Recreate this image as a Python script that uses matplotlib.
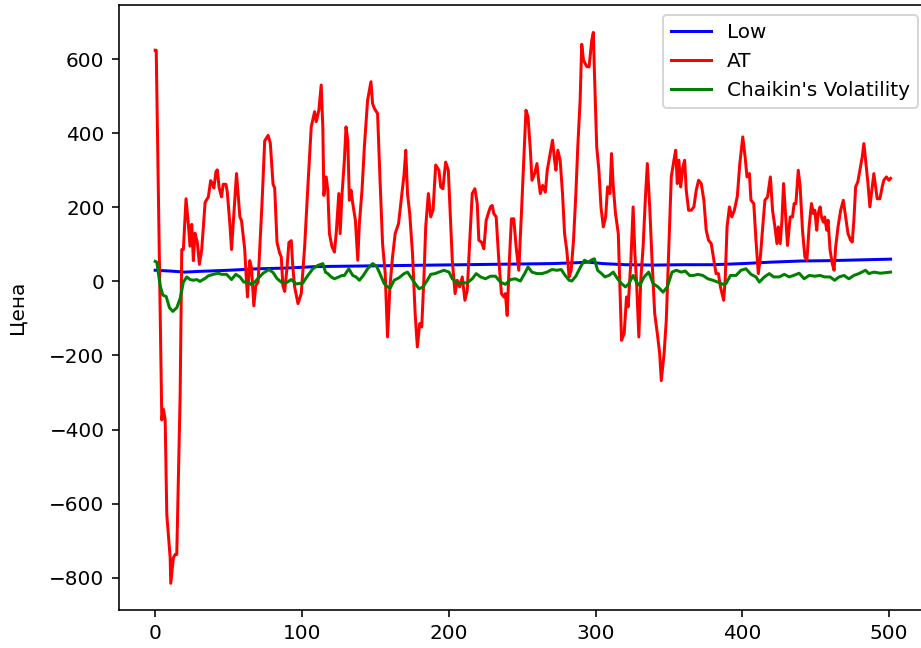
import matplotlib
matplotlib.use("Agg")
import matplotlib.pyplot as plt

# ---- data ----
low_x = [0, 10, 20, 30, 50, 70, 90, 110, 130, 150, 170, 190, 210, 230, 250, 270,
         285, 295, 305, 320, 340, 360, 380, 400, 420, 440, 460, 480, 501]
low_y = [30, 28, 25, 27, 30, 34, 36, 40, 41, 42, 43, 44, 45, 46, 47, 48,
         50, 52, 48, 45, 44, 45, 45, 48, 52, 55, 56, 58, 60]

at_x = [0, 0.7, 4.5, 5.6, 6.8, 7.9, 10.2, 10.6, 12.4, 13.6, 14.7, 17, 18.1, 19.2, 21, 22.6,
        23.7, 24.9, 26, 27.1, 28.7, 30.1, 31.7, 34, 36.2, 37.8, 39.1, 40, 41.4, 42.3, 43.6,
        45.2, 46.3, 48.2, 49.1, 50.9, 52, 55.4, 57.7, 58.8, 61, 62.2, 62.9, 64.4, 65.6, 67.2,
        68.5, 70.1, 71.7, 72.8, 74.6, 76.9, 78.4, 80.3, 81.4, 83, 84.8, 85.9, 87, 88.2, 89.8,
        91.1, 92.7, 93.8, 95, 97.3, 99.5, 101.8, 104, 106.3, 108.6, 109.7, 111.5, 113.1, 114.2,
        114.9, 116.5, 117.6, 118.7, 120.5, 122.1, 123.3, 125.1, 126, 127.3, 128.9, 130, 131.2,
        132.3, 133.4, 134.6, 136.4, 138, 139.1, 140.9, 142.5, 144.7, 147, 148.1, 149.3, 151.5,
        153.1, 154.9, 156.7, 158.3, 159.9, 161.7, 163.5, 165.8, 167.3, 169.6, 170.7, 171.9,
        173.4, 175.3, 177.1, 178.6, 180.2, 181.6, 183.2, 184.3, 186.1, 187.7, 189.3, 191.1,
        193.3, 194.5, 196, 197.9, 199.7, 200.6, 202.4, 204.3, 205.8, 207.4, 209.2, 211, 212.6,
        214.2, 216, 217.8, 219.4, 220.5, 222.3, 223.9, 225.5, 226.9, 228.4, 229.6, 230.7, 232.3,
        234.1, 235.9, 237.5, 238.6, 239.8, 241.3, 242.7, 244.3, 245.9, 247.7, 249.5, 251.1,
        252.6, 254, 255.6, 256.7, 258.5, 260.1, 261.2, 262.4, 264, 265.8, 267.1, 269.1, 270.7,
        272.1, 273, 274.3, 275.9, 277.5, 278.9, 280.4, 282, 283.4, 285, 286.6, 287.9, 289.5,
        290.6, 291.8, 294, 295.6, 297.4, 298.5, 299.2, 300.8, 302.3, 303.7, 305.3, 306.9,
        308.2, 309.8, 310.9, 312.1, 313.6, 315.5, 316.6, 317.7, 319.5, 321.1, 322.2, 324.1,
        325.6, 326.8, 327.9, 329.5, 330.8, 332.4, 334, 335.3, 336.9, 338.5, 340.3, 342.1,
        343.7, 344.8, 346.7, 348.2, 349.8, 351.6, 353.4, 354.6, 355.7, 356.8, 358, 359.5,
        360.7, 361.8, 363.4, 365.2, 367, 368.6, 370.2, 372, 373.8, 375.4, 377, 378.8, 380.6,
        382.1, 383.7, 385.1, 386.7, 387.3, 388.3, 389.6, 391.2, 392.8, 394.6, 396.6, 398.3,
        400.3, 401.9, 403.2, 404.8, 405.9, 407.8, 409.3, 410.9, 412.3, 413.9, 415.4, 417.2,
        419.1, 420.6, 422.2, 423.6, 424.5, 425.8, 427, 428.1, 429.7, 430.8, 432.6, 434.2,
        435.3, 436.5, 438.1, 439.4, 441, 442.6, 444, 445.5, 447.1, 448.5, 449.4, 450.7, 451.6,
        453, 453.9, 455.2, 456.1, 457.5, 458.4, 459.8, 461.3, 462.5, 463.6, 465.2, 467, 468.8,
        470.4, 472, 473.8, 474.9, 476, 477.2, 478.7, 480.1, 481.7, 482.8, 484, 485.6, 486.9,
        488.5, 489.6, 490.8, 491.9, 493.7, 495.3, 496.4, 498.2, 499.8, 501]
at_y = [624, 624, -374, -345, -374, -629, -746, -815, -746, -737, -737, -306, 86, 86, 223, 154,
        95, 154, 56, 130, 105, 46, 86, 213, 228, 272, 262, 252, 296, 301, 252,
        228, 262, 262, 242, 154, 86, 291, 174, 164, 86, -2, -42, 56, 37, -66,
        -12, -2, 125, 213, 379, 394, 374, 262, 252, 105, 76, 66, -12, -27, 37,
        105, 110, 37, -15, -60, -33, 93, 255, 417, 458, 431, 462, 530, 417,
        232, 282, 246, 129, 93, 79, 129, 237, 129, 237, 327, 417, 381,
        219, 246, 210, 165, 57, 156, 246, 363, 489, 539, 480, 467, 453,
        282, 102, 21, -150, -15, 66, 129, 156, 210, 291, 354, 237,
        183, 75, -87, -177, -114, -123, 21, 147, 237, 174, 192, 314,
        300, 255, 250, 322, 300, 219, 57, -33, 3, -15, 12, -51, -24,
        102, 237, 250, 210, 111, 106, 88, 165, 183, 201, 205, 183, 174,
        57, -33, -42, -33, -92, 57, 169, 169, 93, 30, 183, 327,
        462, 444, 354, 273, 291, 318, 273, 237, 259, 241, 300, 345, 381,
        327, 300, 354, 327, 237, 129, 84, 12, 30, 111, 237, 363, 489,
        640, 597, 580, 579, 650, 672, 570, 363, 300, 201, 147, 174,
        255, 237, 345, 255, 183, 129, -15, -159, -141, -42, -69, 57,
        201, 75, 3, -150, 3, 93, 228, 318, 201, 57, -87, -141,
        -195, -268, -195, -105, 75, 282, 327, 354, 264, 327, 255, 309,
        327, 246, 192, 192, 201, 246, 273, 264, 219, 138, 111, 102, 57,
        21, 21, -15, -42, -51, 3, 147, 201, 174, 192, 230, 318,
        390, 336, 282, 291, 219, 210, 111, 21, 66, 147, 219, 228,
        282, 192, 147, 102, 147, 102, 165, 264, 165, 97, 174, 174,
        210, 210, 300, 255, 138, 66, 57, 147, 210, 183, 192, 138, 183,
        201, 174, 160, 174, 138, 165, 84, 48, 30, 93, 147, 192, 219,
        174, 129, 111, 106, 165, 255, 269, 300, 336, 372, 327, 264, 201,
        255, 291, 255, 223, 223, 255, 273, 282, 273, 278]

cv_x = [0, 1.1, 3.4, 5.2, 7.5, 9.7, 12, 14.7, 17, 19.2, 21.5, 23.7, 26, 28.3, 30.5, 34, 36.2,
        39.6, 43, 45.2, 48.6, 52, 54.9, 57.7, 60.4, 63.3, 65.6, 67.8, 70.1, 73.5, 77.5, 80.3,
        82.9, 85.9, 89.3, 92.7, 96.1, 100.6, 104, 107.4, 110.8, 114.2, 116, 117.6, 119.9,
        122.1, 125.1, 127.3, 128.9, 131.9, 134.6, 136.8, 139.1, 141.8, 144.7, 148.1, 150.8,
        153.1, 156, 158.3, 160.1, 162.8, 166.2, 169.6, 171.9, 174.1, 177.1, 179.8, 182.5,
        185.4, 187.7, 190.6, 193.3, 196.7, 200.2, 202.4, 205.8, 209.2, 212.6, 216, 218.7,
        221.7, 225, 228.4, 231.8, 235.2, 238.6, 242, 245.4, 248.8, 251.7, 254, 256.7, 260.1,
        263.5, 266.9, 270.3, 273.7, 276.6, 279.3, 282, 283.8, 286.6, 289.5, 292.4, 295.1,
        297.9, 299.2, 301.4, 304.1, 306.4, 309.1, 312.1, 315, 317.7, 320.4, 322.7, 325.6,
        327.9, 330.1, 333.1, 336.2, 339.2, 342.6, 346, 348.9, 352.1, 355, 358.4, 361.1, 364.1,
        367, 369.7, 373.1, 376.5, 379.9, 383.3, 386.7, 388.9, 391.9, 395.7, 399.1, 402.5,
        405.9, 409.3, 411.6, 415, 418.4, 421.3, 425.2, 428.6, 431.9, 434.9, 438.7, 442.1,
        445.5, 449.4, 453, 456.1, 459.8, 462.9, 465.9, 469.3, 472.6, 476, 479.4, 483.9,
        486.2, 489.6, 494.1, 501]
cv_y = [54, 52, -12, -37, -41, -71, -81, -71, -46, -2, 12, 5, 3, 5, 0, 8, 15,
        19, 22, 19, 19, 5, 19, 12, -2, -2, -9, -2, 8, 22, 32, 24,
        8, -2, -4, 5, -7, -4, 16, 34, 43, 48, 25, 21, 12,
        7, 12, 16, 16, 34, 16, 12, 3, 16, 34, 48, 41,
        21, -6, -15, -18, 3, 10, 21, 25, 12, -6, -20, -15,
        3, 19, 21, 25, 30, 25, 7, -4, -4, -4, 7, 21,
        12, 7, 14, 14, -2, -8, 5, 7, 1, 21, 39, 25, 21,
        21, 25, 32, 30, 32, 16, 3, 1, 14, 37, 57, 52,
        59, 61, 30, 21, 12, 16, 25, 7, -6, -15, -6, 16,
        -2, -11, 12, 25, -6, -15, -29, -15, 25, 30, 25, 28, 16,
        16, 19, 16, 7, 3, -2, -8, -6, 16, 16, 30, 34,
        19, 12, -2, 12, 21, 12, 12, 19, 12, 16, 22, 7,
        16, 14, 16, 12, 12, 3, 12, 16, 7, 16, 21, 30,
        21, 25, 22, 25]

fig = plt.figure(figsize=(921 / 144, 648 / 144), dpi=144)
ax = fig.add_axes([118.5 / 921, 38 / 648, (928 - 118.5) / 921, (610 - 5) / 648])

ax.plot(low_x, low_y, color="blue", label="Low")
ax.plot(at_x, at_y, color="red", label="AT")
ax.plot(cv_x, cv_y, color="green", label="Chaikin's Volatility")

ax.set_xlim(-25, 526.5)
ax.set_ylim(-887, 746)
ax.set_ylabel("Цена", labelpad=11.5)
ax.legend(loc="upper right")

fig.savefig("out.png", dpi=144)
